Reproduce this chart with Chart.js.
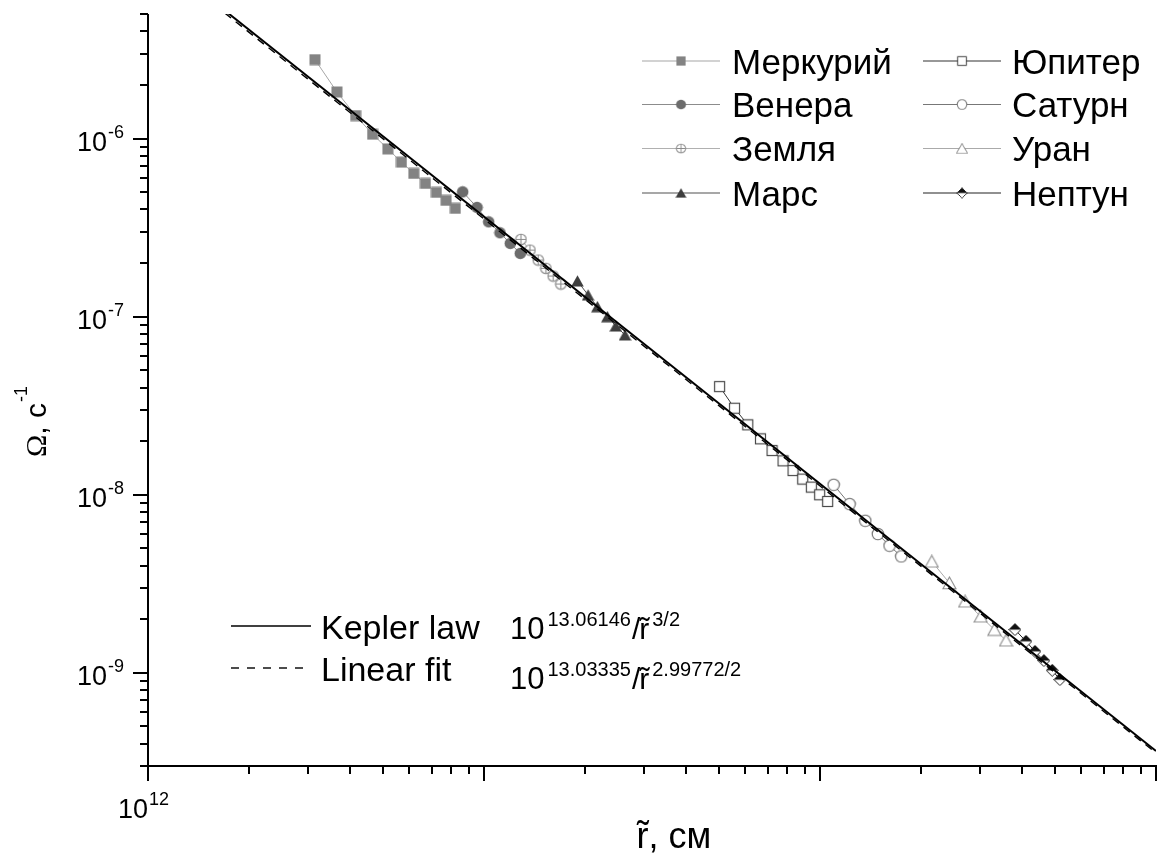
<!DOCTYPE html>
<html>
<head>
<meta charset="utf-8">
<script src="https://cdn.jsdelivr.net/npm/chart.js@4.4.1/dist/chart.umd.min.js"></script>
<style>
html,body{margin:0;padding:0;background:#fff;overflow:hidden}
#wrap{position:relative;width:1163px;height:855px}
</style>
</head>
<body>
<div id="wrap"><canvas id="c" width="1163" height="855"></canvas></div>
<script>
// ---------- data ----------
const seriesNames = ['Меркурий', 'Венера', 'Земля', 'Марс', 'Юпитер', 'Сатурн', 'Уран', 'Нептун'];

const mercuryR = [3.140e12, 3.650e12, 4.148e12, 4.659e12, 5.174e12, 5.681e12, 6.180e12, 6.694e12, 7.217e12, 7.712e12, 8.218e12];
const mercuryW = [2.773e-6, 1.825e-6, 1.346e-6, 1.057e-6, 8.745e-7, 7.365e-7, 6.364e-7, 5.592e-7, 4.981e-7, 4.491e-7, 4.050e-7];

const venusR = [8.640e12, 9.535e12, 1.0323e13, 1.1158e13, 1.1972e13, 1.2820e13];
const venusW = [5.019e-7, 4.103e-7, 3.406e-7, 2.955e-7, 2.577e-7, 2.265e-7];

const earthR = [1.2882e13, 1.3700e13, 1.4500e13, 1.5283e13, 1.6066e13, 1.6935e13];
const earthW = [2.714e-7, 2.363e-7, 2.078e-7, 1.866e-7, 1.690e-7, 1.524e-7];

const marsR = [1.8971e13, 2.0412e13, 2.1753e13, 2.3292e13, 2.4672e13, 2.6291e13];
const marsW = [1.584e-7, 1.322e-7, 1.137e-7, 9.991e-8, 8.858e-8, 7.889e-8];

const jupiterR = [5.0245e13, 5.5667e13, 6.0969e13, 6.6512e13, 7.1995e13, 7.7625e13, 8.3119e13, 8.8820e13, 9.4260e13, 9.977e13, 1.0539e14];
const jupiterW = [4.047e-8, 3.061e-8, 2.468e-8, 2.060e-8, 1.771e-8, 1.550e-8, 1.367e-8, 1.224e-8, 1.104e-8, 9.995e-9, 9.167e-9];

const saturnR = [1.0979e14, 1.2249e14, 1.3637e14, 1.4866e14, 1.6103e14, 1.7446e14];
const saturnW = [1.137e-8, 8.862e-9, 7.143e-9, 6.016e-9, 5.173e-9, 4.505e-9];

const uranusR = [2.1508e14, 2.4272e14, 2.7028e14, 3.0067e14, 3.3021e14, 3.5776e14];
const uranusW = [4.224e-9, 3.196e-9, 2.520e-9, 2.076e-9, 1.749e-9, 1.523e-9];

const neptuneR = [3.8045e14, 4.1020e14, 4.3622e14, 4.6386e14, 4.9101e14, 5.1763e14];
const neptuneW = [1.749e-9, 1.504e-9, 1.321e-9, 1.172e-9, 1.034e-9, 9.170e-10];

// straight lines on the log-log plot (end points)
const keplerR = [1e12, 1e15];
const keplerW = [1.1522e-5, 3.643e-10];
const fitR = [1e12, 1e15];
const fitW = [1.1143e-5, 3.552e-10];

const fitNames = ['Kepler law', 'Linear fit'];
const fitFormulaSup = ['13.06146', '13.03335'];
const fitFormulaPow = ['3/2', '2.99772/2'];

// axis ranges and tick labels
const xRange = [1e12, 1e15];
const yRange = [3e-10, 5e-6];
const xTickLabelExps = [12];
const yTickLabelExps = [-6, -7, -8, -9];
const xTitleVar = 'r';
const xTitleRest = ', см';
const yTitleMain = 'Ω';
const yTitleRest = ', с';
const yTitleSup = '-1';

// ---------- markers ----------
function mk(w, h, draw) {
  const c = document.createElement('canvas');
  c.width = w; c.height = h;
  draw(c.getContext('2d'), w, h);
  return c;
}
const markers = [
  mk(12, 12, g => { g.fillStyle = '#838383'; g.fillRect(0.5, 0.5, 11, 11); }),
  mk(13, 13, g => { g.fillStyle = '#6c6c6c'; g.beginPath(); g.arc(6.5, 6.5, 5.8, 0, Math.PI * 2); g.fill(); }),
  mk(13, 13, g => {
    g.fillStyle = '#fff'; g.strokeStyle = '#8a8a8a'; g.lineWidth = 1.1;
    g.beginPath(); g.arc(6.5, 6.5, 5.3, 0, Math.PI * 2); g.fill(); g.stroke();
    g.beginPath(); g.moveTo(6.5, 1.2); g.lineTo(6.5, 11.8); g.moveTo(1.2, 6.5); g.lineTo(11.8, 6.5); g.stroke();
  }),
  mk(13, 12, g => { g.fillStyle = '#3e3e3e'; g.beginPath(); g.moveTo(6.5, 0.3); g.lineTo(12.8, 11.5); g.lineTo(0.2, 11.5); g.closePath(); g.fill(); }),
  mk(13, 13, g => { g.fillStyle = '#fff'; g.fillRect(1.5, 1.5, 10, 10); g.strokeStyle = '#4a4a4a'; g.lineWidth = 1.2; g.strokeRect(1.5, 1.5, 10, 10); }),
  mk(14, 14, g => { g.fillStyle = '#fff'; g.strokeStyle = '#6a6a6a'; g.lineWidth = 1.1; g.beginPath(); g.arc(7, 7, 5.7, 0, Math.PI * 2); g.fill(); g.stroke(); }),
  mk(15, 14, g => { g.fillStyle = '#fff'; g.strokeStyle = '#8e8e8e'; g.lineWidth = 1.1; g.beginPath(); g.moveTo(7.5, 1); g.lineTo(14, 12.8); g.lineTo(1, 12.8); g.closePath(); g.fill(); g.stroke(); }),
  mk(13, 13, g => {
    g.fillStyle = '#fff'; g.beginPath(); g.moveTo(6.5, 0.5); g.lineTo(12.5, 6.5); g.lineTo(6.5, 12.5); g.lineTo(0.5, 6.5); g.closePath(); g.fill();
    g.fillStyle = '#111'; g.beginPath(); g.moveTo(6.5, 0.5); g.lineTo(12.5, 6.5); g.lineTo(0.5, 6.5); g.closePath(); g.fill();
    g.strokeStyle = '#222'; g.lineWidth = 1; g.beginPath(); g.moveTo(6.5, 0.5); g.lineTo(12.5, 6.5); g.lineTo(6.5, 12.5); g.lineTo(0.5, 6.5); g.closePath(); g.stroke();
  })
];
const lineColors = ['#a6a6a6', '#8c8c8c', '#b0b0b0', '#505050', '#333333', '#777777', '#aaaaaa', '#222222'];

const seriesR = [mercuryR, venusR, earthR, marsR, jupiterR, saturnR, uranusR, neptuneR];
const seriesW = [mercuryW, venusW, earthW, marsW, jupiterW, saturnW, uranusW, neptuneW];
const zip = (a, b) => a.map((v, i) => ({ x: v, y: b[i] }));

const datasets = [
  { label: fitNames[0], data: zip(keplerR, keplerW), borderColor: '#000', borderWidth: 2, pointRadius: 0, order: 0, fill: false },
  { label: fitNames[1], data: zip(fitR, fitW), borderColor: '#000', borderWidth: 1.4, borderDash: [8, 6], pointRadius: 0, order: 0, fill: false }
];
seriesNames.forEach((n, i) => {
  datasets.push({
    label: n, data: zip(seriesR[i], seriesW[i]), borderColor: lineColors[i], borderWidth: 1,
    pointStyle: markers[i], pointRadius: 6, order: 1, fill: false
  });
});

// ---------- decorations ----------
const LF = '"Liberation Sans", Arial, sans-serif';
const SF = '"Liberation Serif", "Times New Roman", serif';

function powText(ctx, x, yb, base, sup, bs, ss, rise, mode) {
  ctx.font = bs + 'px ' + LF;
  const wb = ctx.measureText(base).width;
  ctx.font = ss + 'px ' + LF;
  const ws = ctx.measureText(sup).width;
  let x0 = x;
  if (mode === 'right') x0 = x - wb - ws - 1;
  if (mode === 'baseRight') x0 = x - wb;
  ctx.font = bs + 'px ' + LF;
  ctx.fillText(base, x0, yb);
  ctx.font = ss + 'px ' + LF;
  ctx.fillText(sup, x0 + wb + 1, yb - rise);
}
// letter r with a tilde drawn over it; returns advance width
function rTilde(ctx, x, yb, size) {
  ctx.font = size + 'px ' + LF;
  ctx.fillText('r', x, yb);
  const wr = ctx.measureText('r').width;
  const tw = ctx.measureText('\u02DC').width;
  ctx.fillText('\u02DC', x + wr / 2 - tw / 2 + 0.5, yb - size * 0.03);
  return wr;
}

const axesPlugin = {
  id: 'axesPlugin',
  beforeDatasetsDraw(chart) {
    const { ctx, chartArea: a, scales: { x, y } } = chart;
    ctx.save();
    ctx.strokeStyle = '#000';
    ctx.lineWidth = 2;
    ctx.beginPath();
    ctx.moveTo(a.left, a.top); ctx.lineTo(a.left, a.bottom + 1);
    ctx.moveTo(a.left - 1, a.bottom); ctx.lineTo(a.right + 1, a.bottom);
    const ex0 = Math.floor(Math.log10(x.min)), ex1 = Math.ceil(Math.log10(x.max));
    for (let e = ex0; e <= ex1; e++) for (let m = 1; m <= 9; m++) {
      const v = m * Math.pow(10, e);
      if (v < x.min * 0.999 || v > x.max * 1.001) continue;
      const px = Math.round(x.getPixelForValue(v));
      ctx.moveTo(px, a.bottom); ctx.lineTo(px, a.bottom + (m === 1 ? 15 : 8));
    }
    const ey0 = Math.floor(Math.log10(y.min)), ey1 = Math.ceil(Math.log10(y.max));
    for (let e = ey0; e <= ey1; e++) for (let m = 1; m <= 9; m++) {
      const v = m * Math.pow(10, e);
      if (v < y.min * 0.999 || v > y.max * 1.001) continue;
      const py = Math.round(y.getPixelForValue(v));
      ctx.moveTo(a.left, py); ctx.lineTo(a.left - (m === 1 ? 15 : 8), py);
    }
    ctx.stroke();
    ctx.restore();
  },
  afterDraw(chart) {
    const { ctx, scales: { x, y } } = chart;
    ctx.save();
    ctx.fillStyle = '#000';
    ctx.textAlign = 'left';
    ctx.textBaseline = 'alphabetic';
    // tick labels
    yTickLabelExps.forEach(e => {
      const py = y.getPixelForValue(Math.pow(10, e));
      powText(ctx, 124, py + 12, '10', String(e), 27, 18, 13, 'right');
    });
    xTickLabelExps.forEach(e => {
      const px = x.getPixelForValue(Math.pow(10, e));
      powText(ctx, px, 818, '10', String(e), 27, 18, 13, 'baseRight');
    });
    // x title
    ctx.font = '36px ' + LF;
    const wAll = ctx.measureText(xTitleVar + xTitleRest).width;
    let tx = 673 - wAll / 2;
    tx += rTilde(ctx, tx, 848, 36);
    ctx.font = '36px ' + LF;
    ctx.fillText(xTitleRest, tx, 848);
    // y title (rotated)
    ctx.save();
    ctx.translate(46, 457);
    ctx.rotate(-Math.PI / 2);
    ctx.font = '30px ' + SF;
    ctx.fillText(yTitleMain, 0, 0);
    let w = ctx.measureText(yTitleMain).width;
    ctx.font = '30px ' + LF;
    ctx.fillText(yTitleRest, w, 0);
    w += ctx.measureText(yTitleRest).width;
    ctx.font = '18px ' + LF;
    ctx.fillText(yTitleSup, w + 1, -19);
    ctx.restore();

    // planets legend (2 columns x 4 rows)
    const rowsY = [61, 104.5, 148.5, 193];
    const cols = [{ l0: 642, l1: 720, t: 732 }, { l0: 923, l1: 1001, t: 1012 }];
    seriesNames.forEach((n, i) => {
      const c = cols[Math.floor(i / 4)], ly = rowsY[i % 4];
      ctx.strokeStyle = lineColors[i];
      ctx.lineWidth = 1.2;
      ctx.beginPath(); ctx.moveTo(c.l0, ly); ctx.lineTo(c.l1, ly); ctx.stroke();
      const mkc = markers[i], s = 0.85;
      const mx = (c.l0 + c.l1) / 2;
      ctx.drawImage(mkc, mx - mkc.width * s / 2, ly - mkc.height * s / 2, mkc.width * s, mkc.height * s);
      ctx.font = '35px ' + LF;
      ctx.fillStyle = '#000';
      ctx.fillText(n, c.t, ly + 12.5);
    });

    // fit legend
    const fy = [626, 668];
    const fShift = [0, 8];
    fy.forEach((ly, i) => {
      ctx.strokeStyle = '#000';
      ctx.lineWidth = i === 0 ? 1.6 : 1.4;
      ctx.setLineDash(i === 0 ? [] : [8, 8]);
      ctx.beginPath(); ctx.moveTo(231, ly); ctx.lineTo(311, ly); ctx.stroke();
      ctx.setLineDash([]);
      ctx.font = '34px ' + LF;
      ctx.fillText(fitNames[i], 321, ly + 12.5);
      const bb = ly + 12.5 + fShift[i];
      let fx = 510;
      ctx.font = '31px ' + LF;
      ctx.fillText('10', fx, bb);
      fx += ctx.measureText('10').width + 3;
      ctx.font = '20px ' + LF;
      ctx.fillText(fitFormulaSup[i], fx, bb - 13);
      fx += ctx.measureText(fitFormulaSup[i]).width + 1;
      ctx.font = '30px ' + LF;
      ctx.fillText('/', fx, bb);
      fx += ctx.measureText('/').width - 1;
      fx += rTilde(ctx, fx, bb, 30) + 3;
      ctx.font = '20px ' + LF;
      ctx.fillText(fitFormulaPow[i], fx, bb - 13);
    });
    ctx.restore();
  }
};

new Chart(document.getElementById('c'), {
  type: 'line',
  data: { datasets },
  options: {
    responsive: false,
    animation: false,
    devicePixelRatio: 1,
    layout: { padding: { left: 148, right: 5, top: 14, bottom: 89 } },
    plugins: { legend: { display: false }, tooltip: { enabled: false } },
    elements: { line: { tension: 0 } },
    scales: {
      x: { type: 'logarithmic', min: xRange[0], max: xRange[1], display: false },
      y: { type: 'logarithmic', min: yRange[0], max: yRange[1], display: false }
    }
  },
  plugins: [axesPlugin]
});
</script>
</body>
</html>
